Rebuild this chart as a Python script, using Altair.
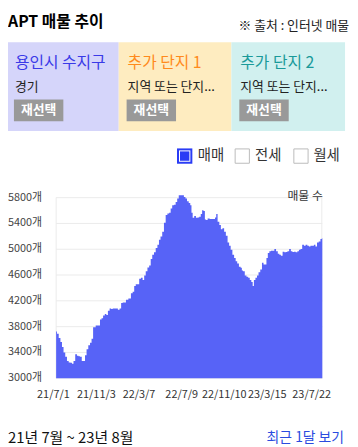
import altair as alt
import pandas as pd

# ---- data ----
dates = [
    "2021-07-09", "2021-07-14", "2021-07-19", "2021-07-24", "2021-07-28", "2021-08-02", "2021-08-07",
    "2021-08-12", "2021-08-17", "2021-08-22", "2021-08-26", "2021-08-31", "2021-09-05", "2021-09-10",
    "2021-09-14", "2021-09-19", "2021-09-24", "2021-09-29", "2021-10-03", "2021-10-08", "2021-10-13",
    "2021-10-18", "2021-10-22", "2021-10-27", "2021-11-06", "2021-11-11", "2021-11-16", "2021-11-20",
    "2021-11-25", "2021-11-30", "2021-12-04", "2021-12-09", "2021-12-14", "2021-12-18", "2021-12-23",
    "2022-01-02", "2022-01-07", "2022-01-12", "2022-01-16", "2022-01-21", "2022-01-26", "2022-01-30",
    "2022-02-09", "2022-02-14", "2022-02-19", "2022-02-23", "2022-02-28", "2022-03-05", "2022-03-10",
    "2022-03-15", "2022-03-20", "2022-03-24", "2022-03-29", "2022-04-03", "2022-04-08", "2022-04-12",
    "2022-04-17", "2022-04-22", "2022-04-27", "2022-05-02", "2022-05-06", "2022-05-11", "2022-05-16",
    "2022-05-21", "2022-05-26", "2022-05-31", "2022-06-05", "2022-06-09", "2022-06-14", "2022-06-19",
    "2022-06-24", "2022-06-28", "2022-07-03", "2022-07-08", "2022-07-13", "2022-07-18", "2022-07-22",
    "2022-07-27", "2022-08-01", "2022-08-05", "2022-08-08", "2022-08-12", "2022-08-17", "2022-08-22",
    "2022-08-27", "2022-08-31", "2022-09-05", "2022-09-08", "2022-09-13", "2022-09-16", "2022-09-20",
    "2022-09-25", "2022-10-02", "2022-10-12", "2022-10-16", "2022-10-19", "2022-10-24", "2022-10-29",
    "2022-11-02", "2022-11-07", "2022-11-12", "2022-11-17", "2022-11-22", "2022-11-26", "2022-12-01",
    "2022-12-06", "2022-12-11", "2022-12-15", "2022-12-20", "2022-12-25", "2022-12-30", "2023-01-01",
    "2023-01-06", "2023-01-11", "2023-01-16", "2023-01-21", "2023-01-25", "2023-01-30", "2023-02-02",
    "2023-02-06", "2023-02-11", "2023-02-15", "2023-02-20", "2023-02-25", "2023-03-02", "2023-03-06",
    "2023-03-11", "2023-03-14", "2023-03-19", "2023-03-23", "2023-03-28", "2023-04-02", "2023-04-07",
    "2023-04-12", "2023-04-17", "2023-04-21", "2023-04-26", "2023-05-01", "2023-05-06", "2023-05-10",
    "2023-05-15", "2023-05-20", "2023-05-25", "2023-05-29", "2023-06-03", "2023-06-08", "2023-06-13",
    "2023-06-17", "2023-06-22", "2023-06-27", "2023-07-02", "2023-07-07", "2023-07-12", "2023-07-16",
    "2023-07-21", "2023-07-26", "2023-07-31", "2023-08-04", "2023-08-09", "2023-08-14", "2023-08-19",
    "2023-08-22",
]
counts = [
    3725, 3690, 3624, 3562, 3486, 3399, 3332,
    3266, 3245, 3240, 3225, 3266, 3373, 3348,
    3342, 3332, 3266, 3266, 3357, 3449, 3510,
    3552, 3613, 3792, 3817, 3817, 3909, 3930,
    3971, 3997, 3981, 4047, 4083, 4073, 4083,
    4083, 4062, 4083, 4165, 4176, 4176, 4216,
    4237, 4318, 4339, 4431, 4456, 4456, 4543,
    4559, 4522, 4594, 4660, 4717, 4748, 4850,
    4916, 4952, 5018, 5070, 5146, 5197, 5273,
    5411, 5530, 5554, 5565, 5632, 5683, 5690,
    5733, 5785, 5836, 5836, 5836, 5810, 5785,
    5744, 5718, 5683, 5565, 5488, 5514, 5488,
    5494, 5503, 5545, 5606, 5591, 5463, 5453,
    5478, 5468, 5468, 5494, 5545, 5427, 5376,
    5310, 5325, 5273, 5208, 5105, 5054, 4993,
    4916, 4865, 4814, 4778, 4727, 4712, 4671,
    4660, 4594, 4574, 4559, 4522, 4492, 4431,
    4522, 4559, 4594, 4645, 4686, 4789, 4763,
    4763, 4865, 4942, 4967, 4978, 4978, 5003,
    4967, 4932, 4916, 4901, 4962, 4952, 4957,
    4967, 5003, 4967, 4957, 4962, 4952, 4967,
    4993, 5003, 5070, 5054, 5070, 5054, 5044,
    5054, 5054, 5070, 5044, 5105, 5120, 5157,
    5172,
]
y_ticks = [3000, 3400, 3800, 4200, 4600, 5000, 5400, 5800]
y_tick_labels = ["3000개", "3400개", "3800개", "4200개", "4600개", "5000개", "5400개", "5800개"]
x_tick_dates = ["2021-07-01", "2021-11-03", "2022-03-07", "2022-07-09", "2022-11-10", "2023-03-15", "2023-07-22"]
x_tick_labels = ["21/7/1", "21/11/3", "22/3/7", "22/7/9", "22/11/10", "23/3/15", "23/7/22"]

panel_titles = ["용인시 수지구", "추가 단지 1", "추가 단지 2"]
panel_subs = ["경기", "지역 또는 단지...", "지역 또는 단지..."]
legend_items = ["매매", "전세", "월세"]

FONT = "Noto Sans CJK KR"
W, H = 346, 438

# plot-area geometry (pixels inside the chart)
PX0, PX1 = 48.7, 318.0
PY0, PY1 = 372.0, 189.3

xscale = alt.Scale(domain=[alt.DateTime(year=2021, month=7, date=9),
                           alt.DateTime(year=2023, month=8, date=22)],
                   range=[PX0, PX1])
yscale = alt.Scale(domain=[3000, 5800], range=[PY0, PY1], zero=False)

df = pd.DataFrame({"date": dates, "v": counts})
ydf = pd.DataFrame({"t": y_ticks, "lab": y_tick_labels})
xdf = pd.DataFrame({"d": x_tick_dates, "lab": x_tick_labels})

one = pd.DataFrame({"k": [0]})


def box(x0, x1, y0, y1, fill, stroke=None, sw=0):
    kw = dict(fill=fill)
    if stroke:
        kw.update(stroke=stroke, strokeWidth=sw)
    return alt.Chart(one).mark_rect(**kw).encode(
        x=alt.value(x0), x2=alt.value(x1), y=alt.value(y0), y2=alt.value(y1))


def txt(s, x, y, size, color, align="left", weight="normal"):
    return alt.Chart(one).mark_text(
        align=align, baseline="middle", fontSize=size, font=FONT,
        color=color, fontWeight=weight).encode(
        x=alt.value(x), y=alt.value(y), text=alt.value(s))


layers = []
# header
layers.append(txt("APT 매물 추이", 0, 11.5, 16, "#000000", weight="bold"))
layers.append(txt("※ 출처 : 인터넷 매물", 345, 15.3, 13, "#222222", align="right"))

# panels
panel_fill = ["#d5d5fa", "#feecc0", "#d1f0ef"]
panel_color = ["#3a3ae8", "#ff8a1c", "#1a9a9a"]
px = [(0, 112), (112, 226), (226, 341)]
tx = [7, 121, 235]
for i in range(3):
    layers.append(box(px[i][0], px[i][1], 32, 122, panel_fill[i]))
    layers.append(txt(panel_titles[i], tx[i], 53, 16, panel_color[i]))
    layers.append(txt(panel_subs[i], tx[i], 77, 13, "#222222"))
    layers.append(box(tx[i] - 1, tx[i] + 49, 90, 112, "#999999"))
    layers.append(txt("재선택", tx[i] + 24, 101, 13, "#ffffff", align="center", weight="bold"))

# legend checkboxes
layers.append(box(171, 186.5, 139.5, 155, "#2a3cf5"))
layers.append(box(173, 184.5, 141.5, 153, "#ffffff"))
layers.append(box(174, 183.5, 142.5, 152, "#2a3cf5"))
layers.append(box(229.8, 244.2, 140, 154.5, "#ffffff", "#bbbbbb", 1))
layers.append(box(289.2, 303.6, 140, 154.5, "#ffffff", "#bbbbbb", 1))
lx = [192, 250, 309]
for i in range(3):
    layers.append(txt(legend_items[i], lx[i], 147, 14.5, "#333333"))

# gridlines
grid = alt.Chart(ydf).mark_rule(color="#ebebeb", strokeWidth=1).encode(
    y=alt.Y("t:Q", scale=yscale, axis=None),
    x=alt.value(PX0), x2=alt.value(PX1))
layers.append(grid)
layers.append(alt.Chart(one).mark_rule(color="#ebebeb").encode(
    x=alt.value(PX0), y=alt.value(PY1), y2=alt.value(PY0)))
layers.append(alt.Chart(one).mark_rule(color="#ebebeb").encode(
    x=alt.value(PX1 - 0.5), y=alt.value(PY1), y2=alt.value(PY0)))

# area
area = alt.Chart(df).mark_area(interpolate="step", color="#5763f7", opacity=1, clip=False).encode(
    x=alt.X("date:T", scale=xscale, axis=None),
    y=alt.Y("v:Q", scale=yscale, axis=None),
    y2=alt.datum(3000))
layers.append(area)

# y labels
layers.append(alt.Chart(ydf).mark_text(align="right", baseline="middle", fontSize=11,
                                       font=FONT, color="#444444").encode(
    y=alt.Y("t:Q", scale=yscale, axis=None), x=alt.value(34.5), text="lab:N"))
# x labels
layers.append(alt.Chart(xdf).mark_text(align="center", baseline="middle", fontSize=11,
                                       font=FONT, color="#333333").encode(
    x=alt.X("d:T", scale=xscale, axis=None), y=alt.value(389.3), text="lab:N"))

layers.append(txt("매물 수", 318.5, 188, 12, "#333333", align="right"))

# footer
layers.append(txt("21년 7월 ~ 23년 8월", 0, 432.5, 15, "#111111"))
layers.append(txt("최근 1달 보기", 340, 432.5, 14, "#2a4bdf", align="right"))

chart = alt.layer(*layers).properties(
    width=W, height=H,
    autosize=alt.AutoSizeParams(type="none"),
    padding=0,
).configure_view(stroke=None)

chart.save("out.html", embed_options={"renderer": "svg", "actions": False})
